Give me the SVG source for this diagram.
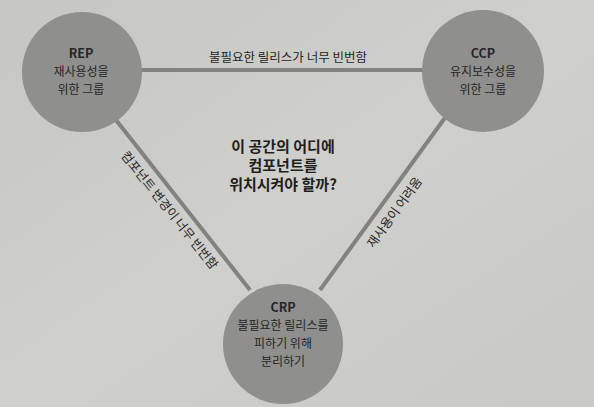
<svg xmlns="http://www.w3.org/2000/svg" width="594" height="407" viewBox="0 0 594 407">
<defs>
<linearGradient id="bg" x1="0" y1="0" x2="1" y2="1">
<stop offset="0" stop-color="#c6c6c3"/>
<stop offset="0.5" stop-color="#cfcfcc"/>
<stop offset="1" stop-color="#c8c8c5"/>
</linearGradient>
</defs>
<style>
.node{fill:#8f8f8e}
.t{font-family:"Noto Sans CJK KR","Noto Sans",sans-serif;font-size:12px;fill:#262626;text-anchor:middle}
.b{font-weight:bold;font-size:12.5px}
.q{font-family:"Noto Sans CJK KR","Noto Sans",sans-serif;font-size:15px;font-weight:bold;fill:#1e1e1e;text-anchor:middle}
.edge{stroke:#828281;stroke-width:4;fill:none}
</style>
<rect width="594" height="407" fill="url(#bg)"/>
<g id="connectors">
<line class="edge" x1="140" y1="70" x2="424" y2="70"/>
<line class="edge" x1="116" y1="120" x2="250" y2="290"/>
<line class="edge" x1="447" y1="115" x2="320" y2="290"/>
<text class="t" x="288" y="62" style="font-size:12.5px">불필요한 릴리스가 너무 빈번함</text>
<text class="t" transform="translate(166 213) rotate(51.5)" style="font-size:12.5px">컴포넌트 변경이 너무 빈번함</text>
<text class="t" transform="translate(398 215) rotate(-54)" style="font-size:12.5px">재사용이 어려움</text>
</g>
<g id="rep">
<circle class="node" cx="82" cy="72" r="60"/>
<text class="t b" x="81" y="58">REP</text>
<text class="t" x="81" y="76">재사용성을</text>
<text class="t" x="81" y="94">위한 그룹</text>
</g>
<g id="ccp">
<circle class="node" cx="483" cy="71" r="61"/>
<text class="t b" x="483" y="58">CCP</text>
<text class="t" x="483" y="76">유지보수성을</text>
<text class="t" x="483" y="94">위한 그룹</text>
</g>
<g id="crp">
<circle class="node" cx="283" cy="344" r="60"/>
<text class="t b" x="283" y="312">CRP</text>
<text class="t" x="283" y="330">불필요한 릴리스를</text>
<text class="t" x="283" y="348">피하기 위해</text>
<text class="t" x="283" y="366">분리하기</text>
</g>
<g id="question">
<text class="q" x="283" y="152">이 공간의 어디에</text>
<text class="q" x="283" y="171">컴포넌트를</text>
<text class="q" x="283" y="190">위치시켜야 할까?</text>
</g>
</svg>
